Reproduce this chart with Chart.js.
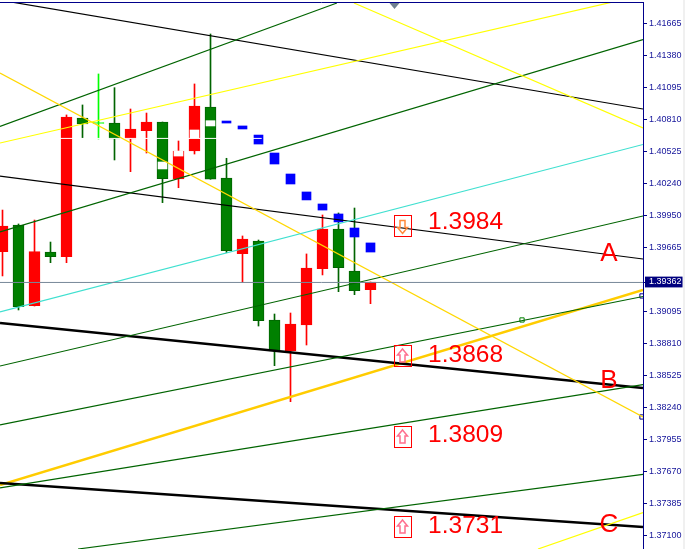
<!DOCTYPE html>
<html>
<head>
    <title>1.3984 chart</title>
    <script src="https://cdn.jsdelivr.net/npm/chart.js"></script>
    <style>
        html, body { margin: 0; padding: 0; background: #f0f0f0; overflow: hidden; }
        canvas { display: block; background: #fff; }
    </style>
</head>
<body>
    <canvas id="priceChart" width="683" height="549"></canvas>

    <script>
        // candles, oldest first. x on the chart is just the bar number
        const opens  = [1.39632, 1.39870, 1.39151, 1.39629, 1.39588, 1.40823, 1.40782, 1.40778, 1.40636, 1.40710, 1.40787, 1.40280,
                        1.40529, 1.40921, 1.40288, 1.39614, 1.39727, 1.39024, 1.38748, 1.38979, 1.39481, 1.39834, 1.39460, 1.39294];
        const closes = [1.39861, 1.39142, 1.39632, 1.39588, 1.40832, 1.40769, 1.40774, 1.40636, 1.40725, 1.40787, 1.40282, 1.40529,
                        1.40930, 1.40277, 1.39641, 1.39745, 1.39018, 1.38748, 1.38988, 1.39487, 1.39834, 1.39490, 1.39285, 1.39362];
        const highs  = [1.40003, 1.39879, 1.39914, 1.39718, 1.40850, 1.40939, 1.41215, 1.41093, 1.40903, 1.40867, 1.40787, 1.40618,
                        1.41126, 1.41571, 1.40464, 1.39772, 1.39736, 1.39077, 1.39086, 1.39612, 1.39959, 1.39977, 1.40021, 1.39362];
        const lows   = [1.39416, 1.39113, 1.39148, 1.39534, 1.39534, 1.40647, 1.40636, 1.40449, 1.40345, 1.40511, 1.40069, 1.40202,
                        1.40502, 1.40277, 1.39623, 1.39356, 1.38970, 1.38617, 1.38296, 1.38801, 1.39425, 1.39276, 1.39249, 1.39169];

        // indicator blocks on bars 10..23
        const markerBars  = [10, 11, 12, 13, 14, 15, 16, 17, 18, 19, 20, 21, 22, 23];
        const markerHighs = [1.40431, 1.40529, 1.40716, 1.40799, 1.40796, 1.40752, 1.40671, 1.40511, 1.40324, 1.40164, 1.40057, 1.39968, 1.39843, 1.39710];
        const markerLows  = [1.40369, 1.40484, 1.40645, 1.40752, 1.40778, 1.40725, 1.40591, 1.40413, 1.40235, 1.40093, 1.40003, 1.39897, 1.39763, 1.39629];
        const markerWhiteCount = 4;

        const tickValues = [1.41665, 1.41380, 1.41095, 1.40810, 1.40525, 1.40240, 1.39950, 1.39665, 1.39362,
                            1.39095, 1.38810, 1.38525, 1.38240, 1.37955, 1.37670, 1.37385, 1.37100];
        const lastPrice = 1.39362;
        const xMin = -0.15625, xMax = 40.03125;
        const yMin = 1.36984, yMax = 1.41856;

        // trend lines, two ends each
        const thinBlack = [
            [[xMin, 1.41873], [xMax, 1.40903]],
            [[xMin, 1.40306], [xMax, 1.39567]]
        ];
        const thickBlack = [
            [[xMin, 1.38997], [xMax, 1.38418]],
            [[xMin, 1.37572], [xMax, 1.37180]]
        ];
        const thickGold = [[xMin, 1.37554], [xMax, 1.39291]];
        const thinGold = [[xMin, 1.41224], [xMax, 1.38160]];
        const yellowLines = [
            [[xMin, 1.40600], [xMax, 1.41918]],
            [[21.97, 1.41847], [xMax, 1.40734]],
            [[33.47, 1.36984], [xMax, 1.37308]]
        ];
        const greenLines = [
            [[xMin, 1.40747], [20.9, 1.41847]],
            [[xMin, 1.39808], [xMax, 1.41522]],
            [[xMin, 1.38614], [xMax, 1.39950]],
            [[xMin, 1.38089], [xMax, 1.39233]],
            [[xMin, 1.37528], [xMax, 1.38449]],
            [[4.72, 1.36984], [xMax, 1.37648]]
        ];
        const cyanLine = [[xMin, 1.39095], [xMax, 1.40587]];
        const whiteLine = [[3.6, 1.40641], [16.2, 1.40641]];
        const lastPriceLine = [[xMin, 1.39358], [xMax, 1.39358]];

        const greenAnchors = [[32.47, 1.39024]];
        const blueAnchors = [[39.97, 1.39238], [39.97, 1.38160]];

        // level boxes with the arrow icon and the big red numbers
        const levelLabels = ['1.3984', '1.3868', '1.3809', '1.3731'];
        const levelLabelPrices = [1.39897, 1.38712, 1.37999, 1.37189];
        const levelBoxPrices = [1.39857, 1.38703, 1.37982, 1.37180];
        const levelArrows = ['down', 'up', 'up', 'up'];
        const levelBoxBar = 25;
        const levelLabelBar = 26.6;
        const letterLabels = ['A', 'B', 'C'];
        const letterPrices = [1.39612, 1.38481, 1.37198];
        const letterBar = 37.9;
        const markerTriangleBar = 24.5;

        const RED = '#ff0000', GREEN = '#008000', DARKGREEN = '#006400', LIME = '#00ff00', NAVY = '#00008b';
        const THIN = 1.2, THICK = 2.5;

        const bars = opens.map((o, i) => i);
        const isDoji = i => i === 6;
        const wickColor = i => isDoji(i) ? LIME : (closes[i] > opens[i] ? RED : DARKGREEN);
        const bodyColor = i => isDoji(i) ? LIME : (closes[i] > opens[i] ? RED : GREEN);
        const bodyBorder = i => isDoji(i) ? LIME : (closes[i] > opens[i] ? RED : DARKGREEN);

        function lineSet(points, color, width) {
            return {
                type: 'line',
                data: points.map(p => ({ x: p[0], y: p[1] })),
                borderColor: color,
                borderWidth: width,
                pointRadius: 0,
                tension: 0,
                fill: false
            };
        }

        function anchorSet(points, color) {
            return {
                type: 'scatter',
                data: points.map(p => ({ x: p[0], y: p[1] })),
                pointStyle: 'rect',
                pointRadius: 3,
                backgroundColor: '#ffffff',
                borderColor: color,
                borderWidth: 1
            };
        }

        const datasets = [
            {
                // wicks
                type: 'bar',
                data: bars.map(i => ({ x: i, y: [lows[i], highs[i]] })),
                backgroundColor: bars.map(wickColor),
                barThickness: 1,
                grouped: false,
                order: 5
            },
            {
                // bodies
                type: 'bar',
                data: bars.map(i => ({ x: i, y: [opens[i], closes[i]] })),
                backgroundColor: bars.map(bodyColor),
                borderColor: bars.map(bodyBorder),
                borderWidth: 1,
                borderSkipped: false,
                barThickness: 11,
                grouped: false,
                order: 4
            },
            {
                type: 'bar',
                data: markerBars.map((b, i) => ({ x: b, y: [markerLows[i], markerHighs[i]] })),
                backgroundColor: markerBars.map((b, i) => i < markerWhiteCount ? '#ffffff' : '#0000ff'),
                barThickness: 9,
                grouped: false,
                order: 3
            },
            Object.assign(lineSet(whiteLine, '#ffffff', 1), { order: 2 }),
            lineSet(lastPriceLine, '#778899', 1),
            lineSet(cyanLine, '#40e0d0', THIN),
            ...yellowLines.map(l => lineSet(l, '#ffff00', THIN)),
            lineSet(thinGold, '#ffd700', THIN),
            ...greenLines.map(l => lineSet(l, DARKGREEN, THIN)),
            ...thinBlack.map(l => lineSet(l, '#000000', THIN)),
            ...thickBlack.map(l => lineSet(l, '#000000', THICK)),
            lineSet(thickGold, '#ffcc00', THICK),
            anchorSet(greenAnchors, GREEN),
            anchorSet(blueAnchors, NAVY)
        ];

        function drawArrow(ctx, cx, cy, dir) {
            const s = dir === 'up' ? 1 : -1;
            ctx.beginPath();
            ctx.moveTo(cx, cy - 7 * s);
            ctx.lineTo(cx + 5, cy - 1 * s);
            ctx.lineTo(cx + 2.5, cy - 1 * s);
            ctx.lineTo(cx + 2.5, cy + 6 * s);
            ctx.lineTo(cx - 2.5, cy + 6 * s);
            ctx.lineTo(cx - 2.5, cy - 1 * s);
            ctx.lineTo(cx - 5, cy - 1 * s);
            ctx.closePath();
            ctx.strokeStyle = dir === 'up' ? '#ff6f8f' : '#ff8a3c';
            ctx.lineWidth = 1.5;
            ctx.stroke();
        }

        const overlay = {
            id: 'overlay',
            afterDatasetsDraw(chart) {
                const { ctx, chartArea, scales: { x, y } } = chart;
                ctx.save();

                // top frame line
                ctx.strokeStyle = NAVY;
                ctx.lineWidth = 1;
                ctx.beginPath();
                ctx.moveTo(chartArea.left, chartArea.top + 0.5);
                ctx.lineTo(chartArea.right, chartArea.top + 0.5);
                ctx.stroke();

                // little marker hanging from the top line
                const tx = x.getPixelForValue(markerTriangleBar);
                ctx.fillStyle = '#708090';
                ctx.beginPath();
                ctx.moveTo(tx - 5, chartArea.top + 1);
                ctx.lineTo(tx + 5, chartArea.top + 1);
                ctx.lineTo(tx, chartArea.top + 7);
                ctx.closePath();
                ctx.fill();

                ctx.textBaseline = 'middle';
                ctx.textAlign = 'left';
                ctx.fillStyle = RED;
                ctx.font = '24.5px "Liberation Sans"';
                levelLabels.forEach((t, i) => {
                    ctx.fillText(t, x.getPixelForValue(levelLabelBar), y.getPixelForValue(levelLabelPrices[i]));
                });

                levelBoxPrices.forEach((p, i) => {
                    const cx = x.getPixelForValue(levelBoxBar);
                    const cy = y.getPixelForValue(p);
                    ctx.strokeStyle = RED;
                    ctx.lineWidth = 1;
                    ctx.strokeRect(Math.round(cx) - 8.5, Math.round(cy) - 10.5, 17, 21);
                    drawArrow(ctx, cx, cy, levelArrows[i]);
                });

                ctx.textAlign = 'center';
                ctx.fillStyle = RED;
                ctx.font = '26px "Liberation Sans"';
                letterLabels.forEach((t, i) => {
                    ctx.fillText(t, x.getPixelForValue(letterBar), y.getPixelForValue(letterPrices[i]));
                });

                ctx.restore();
            }
        };

        new Chart(document.getElementById('priceChart'), {
            type: 'bar',
            data: { datasets: datasets },
            plugins: [overlay],
            options: {
                responsive: false,
                animation: false,
                layout: { autoPadding: false, padding: { top: 2, left: 0, right: 0, bottom: 0 } },
                plugins: { legend: { display: false }, tooltip: { enabled: false } },
                scales: {
                    x: { type: 'linear', min: xMin, max: xMax, offset: false, display: false, ticks: { display: false } },
                    y: {
                        position: 'right',
                        min: yMin,
                        max: yMax,
                        afterBuildTicks: scale => { scale.ticks = tickValues.map(v => ({ value: v })); },
                        afterFit: scale => { scale.width = 40; scale.paddingTop = 0; scale.paddingBottom = 0; },
                        border: { color: NAVY, width: 1 },
                        grid: { drawOnChartArea: false, drawTicks: true, tickLength: 4, tickColor: NAVY },
                        ticks: {
                            autoSkip: false,
                            maxRotation: 0,
                            padding: 2,
                            font: { family: '"Liberation Sans"', size: 9 },
                            color: ctx => ctx.tick.value === lastPrice ? '#ffffff' : '#14149a',
                            showLabelBackdrop: ctx => ctx.tick.value === lastPrice,
                            backdropColor: '#00007f',
                            backdropPadding: { left: 4, right: 1, top: 0, bottom: 0 },
                            callback: v => v.toFixed(5)
                        }
                    }
                }
            }
        });
    </script>
</body>
</html>
